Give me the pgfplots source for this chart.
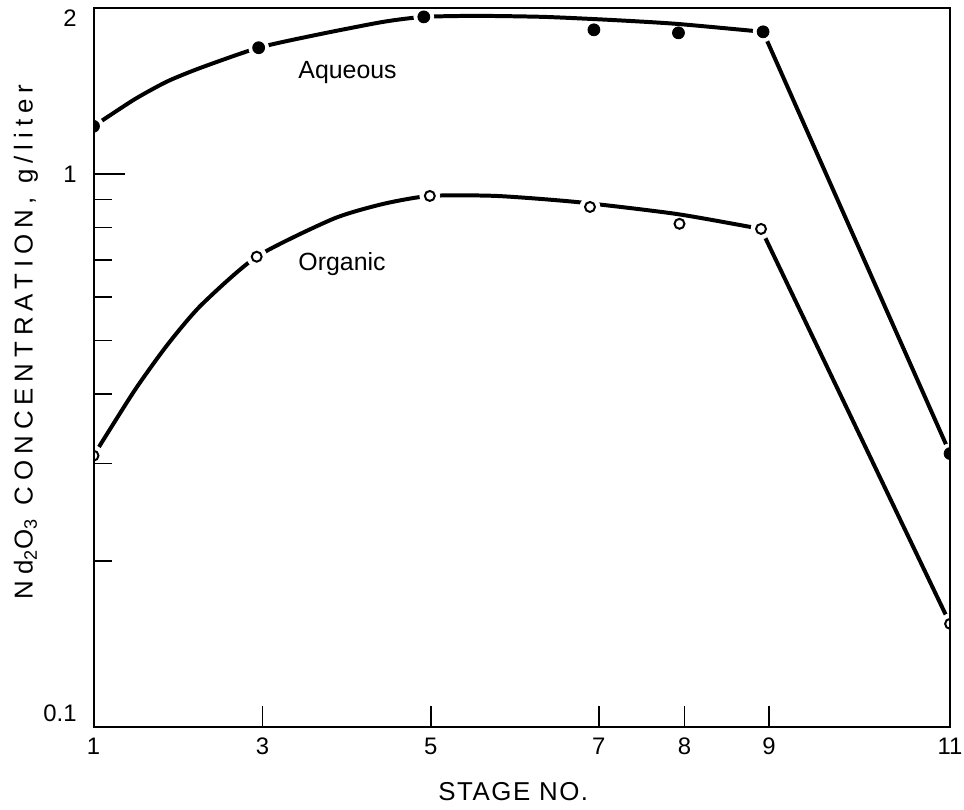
\documentclass[border=0pt]{standalone}
\usepackage{fontspec}
\setmainfont{Liberation Sans}
\usepackage{pgfplots}
\pgfplotsset{compat=1.18}
\begin{document}
\begin{tikzpicture}
\begin{axis}[
  scale only axis,
  width=430.5pt, height=361.7pt,
  xmin=1, xmax=11,
  ymode=log, ymin=0.1, ymax=2,
  axis line style={line width=1pt},
  axis on top,
  clip marker paths=true,
  xtick={1,2.974,4.937,6.900,7.899,8.886,11},
  xticklabels={1,3,5,7,8,9,11},
  ytick={0.1,1,2},
  yticklabels={\raisebox{3pt}[0pt][0pt]{0.1},1,\raisebox{-9.5pt}[0pt][0pt]{2}},
  minor ytick={0.2,0.3,0.4,0.5,0.6,0.7,0.8,0.9},
  tick align=inside,
  xtick pos=bottom, ytick pos=left,
  major tick length=16pt, minor tick length=9.5pt,
  xtick style={/pgfplots/major tick length=10.5pt},
  tick style={line width=0.8pt, black},
  xticklabel style={font=\fontsize{12}{14}\selectfont, yshift=-2pt},
  yticklabel style={font=\fontsize{12}{14}\selectfont, xshift=-5pt},
  xlabel={STAGE NO.},
  xlabel style={font=\fontsize{13}{15}\selectfont\addfontfeature{LetterSpace=6}, at={(axis description cs:0.49,0)}, anchor=center, yshift=-32.5pt},
  ylabel={Nd\textsubscript{2}O\textsubscript{3} CONCENTRATION, g/liter},
  ylabel style={font=\fontsize{13}{15}\selectfont\addfontfeature{LetterSpace=23}, at={(axis description cs:-0.079,0.535)}, anchor=center},
]
% Aqueous curve
\addplot[line width=2pt, smooth, tension=0.4, no marks] coordinates {
(1,1.220)(1.476,1.364)(1.859,1.470)(2.254,1.557)(2.928,1.692)(3.602,1.785)(4.380,1.884)(4.856,1.924)(5.483,1.932)(6.261,1.924)(7.028,1.900)(7.806,1.869)(8.817,1.808)};
\addplot[line width=2pt, no marks] coordinates {(8.817,1.808)(11,0.3124)};
% Organic curve
\addplot[line width=2pt, smooth, tension=0.4, no marks] coordinates {
(1,0.3097)(1.476,0.4055)(1.859,0.4905)(2.254,0.579)(2.905,0.709)(3.799,0.830)(4.380,0.883)(4.926,0.913)(5.700,0.913)(6.645,0.890)(7.806,0.847)(8.793,0.796)};
\addplot[line width=2pt, no marks] coordinates {(8.793,0.796)(11,0.1538)};
% white gaps around points lying on the curves
\addplot[only marks, mark=*, mark size=5pt, mark options={fill=white, draw=white}] coordinates {
(1,1.220)(2.928,1.692)(4.856,1.924)(8.817,1.808)(11,0.3124)
(1,0.3097)(2.905,0.709)(4.926,0.913)(6.796,0.872)(8.793,0.796)(11,0.1538)};
% Aqueous points
\addplot[only marks, mark=*, mark size=3pt, black] coordinates {
(1,1.220)(2.928,1.692)(4.856,1.924)(6.842,1.823)(7.829,1.800)(8.817,1.808)(11,0.3124)};
% Organic points
\addplot[only marks, mark=o, mark size=2.5pt, mark options={line width=1pt, fill=white}, black] coordinates {
(1,0.3097)(2.905,0.709)(4.926,0.913)(6.796,0.872)(7.841,0.813)(8.793,0.796)(11,0.1538)};
\node[anchor=west, font=\fontsize{12.5}{15}\selectfont] at (axis cs:3.311,1.526) {Aqueous};
\node[anchor=west, font=\fontsize{12.5}{15}\selectfont] at (axis cs:3.311,0.689) {Organic};
\end{axis}
\pgfresetboundingbox
\path[use as bounding box] ([shift={(-47pt,-41.5pt)}]current axis.south west) rectangle ([shift={(7pt,3.8pt)}]current axis.north east);
\end{tikzpicture}
\end{document}
